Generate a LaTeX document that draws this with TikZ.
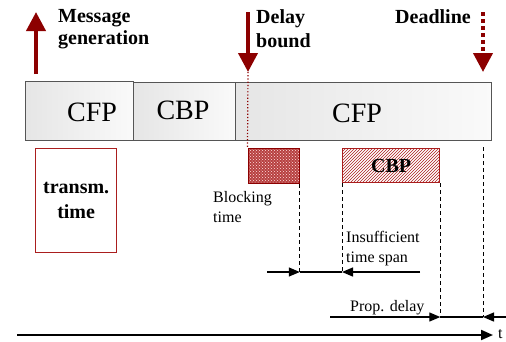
\documentclass[tikz,border=0pt]{standalone}
\usepackage{fontspec}
\setmainfont{Liberation Serif}
\usetikzlibrary{arrows.meta,patterns}
\definecolor{darkred}{RGB}{140,0,0}
\definecolor{boxred}{RGB}{170,30,30}
\definecolor{barline}{RGB}{85,85,85}
\begin{document}
\begin{tikzpicture}[x=1pt,y=-1pt,
  bigred/.style={draw=darkred,line width=4pt,-{Triangle[length=19pt,width=19pt]}},
  barbox/.style={draw=barline,line width=1pt,left color=gray!20,right color=gray!4,
    inner sep=0pt,anchor=north west},
  bartext/.style={font=\fontsize{28}{30}\selectfont,anchor=base,inner sep=0pt},
  boldlbl/.style={font=\fontsize{20}{22}\selectfont\bfseries,anchor=base west,inner sep=0pt},
  smalllbl/.style={font=\fontsize{16}{18}\selectfont,anchor=base west,inner sep=0pt},
  redbox/.style={draw=boxred,line width=1.3pt,inner sep=0pt,anchor=north west},
  dashln/.style={draw=black,line width=1pt,dash pattern=on 4pt off 3pt},
  tarrow/.style={draw=black,line width=1.3pt,-{Triangle[length=11pt,width=9pt]}},
  tline/.style={draw=black,line width=1.3pt}]
\useasboundingbox (0,0) rectangle (506,341);

% superframe bar
\node[barbox,minimum width=108pt,minimum height=59pt] (cfpA) at (25,81) {};
\node[barbox,minimum width=102pt,minimum height=58pt] (cbpA) at (133,82) {};
\node[barbox,minimum width=256pt,minimum height=58pt] (cfpB) at (235,82) {};
\node[bartext] (cfpAt) at (92,121) {CFP};
\node[bartext] (cbpAt) at (183,119) {CBP};
\node[bartext] (cfpBt) at (357,122) {CFP};

% top markers
\coordinate (genS) at (36,74);
\coordinate (genE) at (36,12);
\draw[bigred] (genS) -- (genE);
\node[boldlbl] (msgA) at (58,22) {Message};
\node[boldlbl] (msgB) at (58,44) {generation};

\coordinate (dbS) at (248,12);
\coordinate (dbE) at (248,72);
\draw[bigred] (dbS) -- (dbE);
\node[boldlbl] (delA) at (256,23) {Delay};
\node[boldlbl] (delB) at (256,47) {bound};

\coordinate (dlS) at (483,12);
\coordinate (dlE) at (483,72);
\draw[bigred,dash pattern=on 4pt off 3pt] (dlS) -- (dlE);
\node[boldlbl] (dead) at (395,23) {Deadline};

% transmission, blocking and CBP boxes
\node[redbox,minimum width=81pt,minimum height=104pt,align=center,
  font=\fontsize{20}{25}\selectfont\bfseries] (trans) at (35,148) {transm.\\time};
\node[redbox,draw=darkred,minimum width=51pt,minimum height=35pt,
  preaction={fill=boxred!85},pattern=crosshatch dots,pattern color=red!12] (blk) at (247.5,148) {};
\node[redbox,minimum width=97pt,minimum height=34pt,
  pattern=north east lines,pattern color=boxred] (cbp) at (342,148) {};
\node[font=\fontsize{20}{22}\selectfont\bfseries,inner sep=0pt] (cbpt) at (cbp.center) {CBP};

\draw[darkred,line width=1.2pt,dotted] (dbE) -- (blk.north west);

\node[smalllbl] (blkA) at (213,202) {Blocking};
\node[smalllbl] (blkB) at (213,222) {time};
\node[smalllbl] (insA) at (346,242) {Insufficient};
\node[smalllbl] (insB) at (346,262) {time span};
\node[smalllbl] (prop) at (350,311) {Prop. delay};

% dimension rows
\coordinate (r1a) at (267,272);
\coordinate (r1b) at (420,272);
\coordinate (r2a) at (330,317);
\coordinate (r2b) at (510,317);
\coordinate (dlTop) at (483,147);

\draw[dashln] (blk.south east) -- (blk.south east |- r1a);
\draw[dashln] (cbp.south west) -- (cbp.south west |- r1a);
\draw[dashln] (cbp.south east) -- (cbp.south east |- r2a);
\draw[dashln] (dlTop) -- (dlTop |- r2a);

\draw[tarrow] (r1a) -- (blk.south east |- r1a);
\draw[tline] (blk.south east |- r1a) -- (cbp.south west |- r1a);
\draw[tarrow] (r1b) -- (cbp.south west |- r1a);

\draw[tarrow] (r2a) -- (cbp.south east |- r2a);
\draw[tline] (cbp.south east |- r2a) -- (dlTop |- r2a);
\draw[tarrow] (r2b) -- (dlTop |- r2a);

% time axis
\coordinate (tS) at (17,335);
\coordinate (tE) at (493,335);
\draw[draw=black,line width=2pt,-{Triangle[length=12pt,width=10pt]}] (tS) -- (tE);
\node[smalllbl] (tlbl) at (498,338) {t};
\end{tikzpicture}
\end{document}
